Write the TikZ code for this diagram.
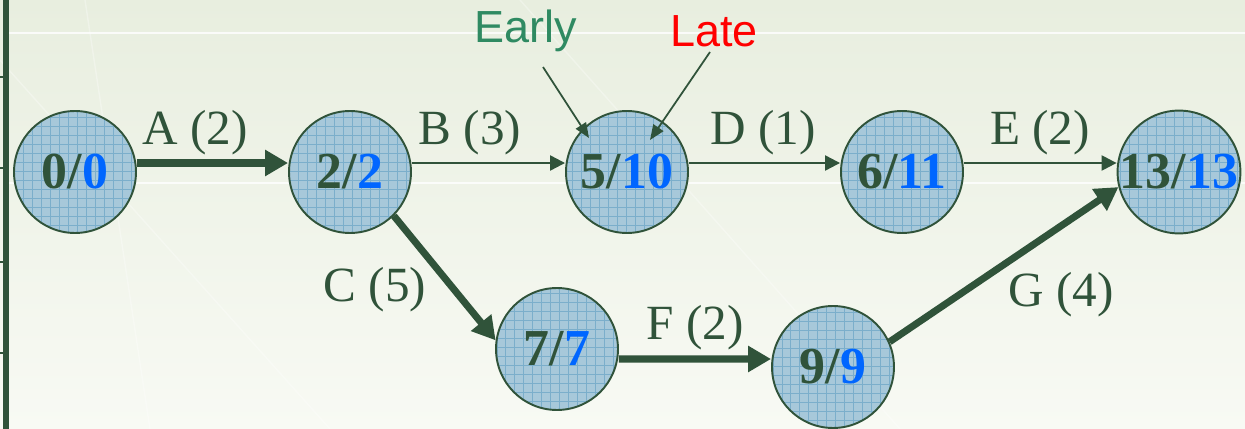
\documentclass[tikz,border=0pt]{standalone}
\usepackage{fontspec}
\setmainfont{Liberation Serif}
\newfontfamily\labsans{Liberation Sans}
\usetikzlibrary{arrows.meta}
\definecolor{dkgreen}{HTML}{30533A}
\definecolor{nblue}{HTML}{0066FF}
\definecolor{earlyc}{HTML}{2F8A62}
\definecolor{latec}{HTML}{FF0000}
\definecolor{nodefill}{HTML}{A7C8DA}
\definecolor{gridc}{HTML}{5F9DC2}
\definecolor{bgtop}{HTML}{E8EEDF}
\definecolor{bgbot}{HTML}{F8FAF4}
\tikzset{
  evt/.style={circle, draw=dkgreen, line width=1.1pt, fill=nodefill,
    minimum size=2.44cm, inner sep=0pt, text=dkgreen,
    font=\fontsize{29.5}{30}\selectfont\bfseries,
    path picture={\draw[gridc, line width=0.45pt, opacity=0.6]
      (path picture bounding box.south west) grid[step=0.18cm]
      (path picture bounding box.north east);}},
  crit/.style={draw=dkgreen, line width=4pt, -{Triangle[length=0.46cm,width=0.5cm]}},
  slack/.style={draw=dkgreen, line width=1.3pt, -{Triangle[length=0.3cm,width=0.3cm]}},
  pointer/.style={draw=dkgreen, line width=1pt, -{Triangle[length=0.3cm,width=0.24cm]}},
  act/.style={text=dkgreen, font=\fontsize{28}{30}\selectfont, inner sep=0pt},
  callout/.style={font=\labsans\fontsize{25.6}{28}\selectfont, inner sep=0pt},
  bgline/.style={draw=white, line width=0.8pt, opacity=0.8}
}
\begin{document}
\begin{tikzpicture}[x=0.02cm, y=-0.02cm]
\useasboundingbox (0,0) rectangle (1245,429);
\shade[top color=bgtop, bottom color=bgbot] (0,0) rectangle (1245,429);
% faint background lines
\draw[bgline] (9,33) -- (1245,33);
\draw[bgline] (9,183) -- (1245,183);
\draw[bgline, opacity=0.3] (85,0) -- (150,429);
\draw[bgline, opacity=0.3] (0,60) -- (330,429);
\draw[bgline, opacity=0.3] (520,0) -- (900,429);
% left bar with ticks
\fill[dkgreen] (3,0) rectangle (9,429);
\foreach \t in {77,168,262,353} \fill[dkgreen] (0,\t-1.2) rectangle (9,\t+1.2);

% events
\node[evt] (n0) at (75,172) {0/{\color{nblue}0}};
\node[evt] (n2) at (350,172) {2/{\color{nblue}2}};
\node[evt] (n5) at (627,172) {5/{\color{nblue}10}};
\node[evt] (n6) at (902,172) {6/{\color{nblue}11}};
\node[evt] (n13) at (1179,172) {13/{\color{nblue}13}};
\node[evt] (n7) at (557,349) {7/{\color{nblue}7}};
\node[evt] (n9) at (833,367) {9/{\color{nblue}9}};

% activities
\draw[crit] ([yshift=0.18cm]n0.east) -- ([yshift=0.18cm]n2.west);
\draw[slack] ([yshift=0.18cm]n2.east) -- ([yshift=0.18cm]n5.west);
\draw[slack] ([yshift=0.18cm]n5.east) -- ([yshift=0.18cm]n6.west);
\draw[slack] ([yshift=0.18cm]n6.east) -- ([yshift=0.18cm]n13.west);
\draw[crit] (n2.-45) -- (n7.172);
\draw[crit] ([yshift=-0.2cm]n7.east) -- ([yshift=0.16cm]n9.west);
\draw[crit] (n9.24) -- (n13.194);

% activity labels
\node[act] (la) at (195,133) {A (2)};
\node[act] (lb) at (470,133) {B (3)};
\node[act] (ld) at (763,133) {D (1)};
\node[act] (le) at (1040,133) {E (2)};
\node[act] (lc) at (375,290) {C (5)};
\node[act] (lf) at (695,328) {F (2)};
\node[act] (lg) at (1061,295) {G (4)};

% callouts
\node[callout, text=earlyc] (early) at (526,31) {Early};
\node[callout, text=latec] (late) at (714,31) {Late};
\coordinate (ea) at (543,67);
\coordinate (eb) at (589,138);
\coordinate (la1) at (710,52);
\coordinate (lb1) at (650,140);
\draw[pointer] (ea) -- (eb);
\draw[pointer] (la1) -- (lb1);
\end{tikzpicture}
\end{document}
